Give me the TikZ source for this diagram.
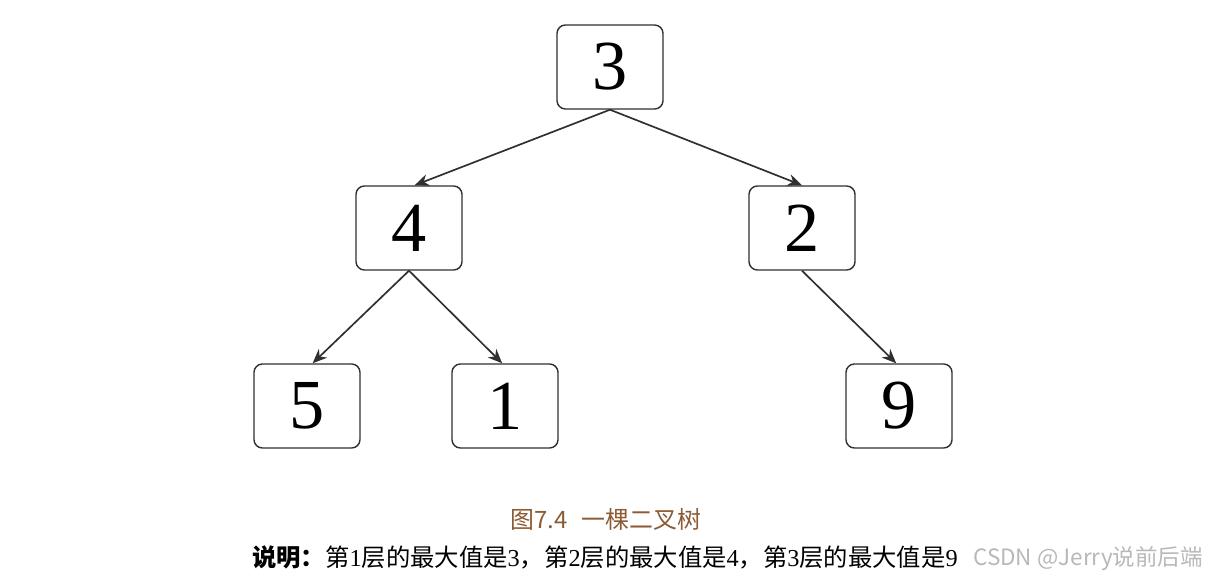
\documentclass[tikz,border=0pt]{standalone}
\usepackage{fontspec}
\setmainfont{Liberation Serif}
\newfontfamily\cjk{Noto Sans CJK SC}
\usepackage{tikz}
\usetikzlibrary{arrows.meta}
\definecolor{cbox}{HTML}{303030}
\definecolor{ccap}{HTML}{8C5A33}
\definecolor{cmark}{HTML}{B8B8B8}

\begin{document}
\begin{tikzpicture}[
  x=0.025cm, y=-0.025cm,
  >={Stealth[length=3.6mm, width=3mm]},
  num/.style={rounded corners=6pt, draw=cbox, line width=1pt, fill=white,
    minimum width=2.65cm, minimum height=2.1cm, inner sep=0pt,
    font=\fontsize{50}{50}\selectfont},
  link/.style={->, line width=1.2pt, draw=cbox},
  figcap/.style={inner sep=0pt, text=ccap, font=\cjk\fontsize{17}{17}\selectfont},
  note/.style={inner sep=0pt, anchor=west, font=\fontsize{17.3}{17}\selectfont},
]
\useasboundingbox (0,0) rectangle (1209,583);

% =================== tree ===================
\node[num] (n3) at (610,67) {3};
\node[num] (n4) at (409,228) {4};
\node[num] (n2) at (802,228) {2};
\node[num] (n5) at (307,406) {5};
\node[num] (n1) at (505,406) {1};
\node[num] (n9) at (899,406) {9};
\draw[link] (n3.south)--([xshift=4pt]n4.north);
\draw[link] (n3.south)--(n2.north);
\draw[link] (n4.south)--([xshift=4pt]n5.north);
\draw[link] (n4.south)--([xshift=-2pt]n1.north);
\draw[link] (n2.south)--([xshift=-2pt]n9.north);

% =================== caption ===================
\node[figcap] (title) at (606,519) {图7.4\hspace{0.6em}一棵二叉树};
\node[note] (expl) at (252,557)
  {{\cjk\bfseries 说明：}{\cjk 第}1{\cjk 层的最大值是}3{\cjk ，第}2{\cjk 层的最大值是}4{\cjk ，第}3{\cjk 层的最大值是}9};
\node[note, text=cmark, font=\cjk\fontsize{16}{16}\selectfont] (mark) at (973,559) {CSDN @Jerry说前后端};
\end{tikzpicture}
\end{document}
